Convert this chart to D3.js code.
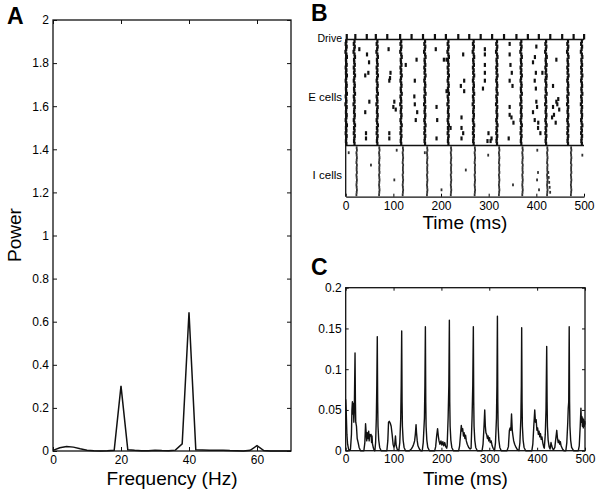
<!DOCTYPE html>
<html>
<head>
<meta charset="utf-8">
<script src="https://cdn.jsdelivr.net/npm/d3@7"></script>
<style>
  body { margin: 0; background: #fff; }
  svg text { font-family: "Liberation Sans", Arial, Helvetica, sans-serif; fill: #000; }
</style>
</head>
<body>
<svg id="fig" width="600" height="496"></svg>
<script>
// ---- panel A : power spectrum
const freqs = [0,2,4,6,8,10,12,14,16,18,20,22,24,26,28,30,32,34,36,38,40,42,44,46,48,50,52,54,56,58,60,62,64,66,68,70];
const power = [0.003,0.015,0.021,0.018,0.010,0.004,0.001,0,0.001,0.003,0.302,0.006,0.003,0.001,0.001,0.004,0.002,0.001,0.004,0.033,0.644,0.006,0.005,0.003,0.004,0.004,0.002,0.001,0,0.003,0.025,0.002,0,0,0,0];
const freqTicks = [0, 20, 40, 60];
const powerTicks = [0, 0.2, 0.4, 0.6, 0.8, 1, 1.2, 1.4, 1.6, 1.8, 2];

// ---- panel B : raster
const driveTimes = [2, 20, 44, 63, 87, 114, 138, 162, 187, 210, 236, 259, 283, 307, 332, 358, 382, 405, 429, 454, 478, 500];
const eVolleys = [1, 18, 66, 116, 166, 215, 268, 317, 368, 420, 466, 495];
const iVolleys = [23, 70.5, 120, 171, 221, 271, 322, 371, 423, 473];
// per-cell timing offset (ms) inside a volley
const eJitter = [0.5,-1,1,0,-1.5,0.5,1.5,-0.5,0,1,-1,0.5,-0.5,1.5,0,-1,0.5,1,-0.5,0,1.5,-1,0,0.5,-1.5,1,0,-0.5,1,0.5,-1,0,1.5,-0.5,0.5,-1,1,0,-0.5,0.5];
const iJitter = [0,0.5,-0.5,0,0.5,0,-0.5,0.5,0,0,0.5,-0.5,0,0.5,0,-0.5,0,0.5,0,-0.5];
// spikes outside the volleys: [time ms, cell]
const eExtra = [
  [28.6,3],[44.7,5],[49,8],[47.5,12],[41,13],[49.6,23],[41,27],[42.6,35],[42.6,37],
  [90,3],[94,12],[93,14],[91.5,15],[102,23],[100,25],[105,26],[91.5,35],[91.5,37],
  [126,9],[148.7,7],[145,15],[144,21],[145,24],[150,27],[147,30],
  [189,3],[206,7],[211.6,7],[190.6,25],[192,30],[190.6,37],[211.6,19],[220,33],
  [246.5,5],[248.6,15],[241.6,17],[248.6,19],[243,29],[243,33],[246.5,35],[243,37],
  [292,3],[292,5],[292,9],[292,12],[292,15],[288,18],[299.6,35],[306,37],[297.5,38],[304,38],
  [344,1],[344,5],[345.7,9],[348.5,12],[344,15],[350,17],[344,25],[344,28],[347.8,29],[352,31],[342,37],
  [400,2],[397,6],[393,8],[399,12],[396.6,15],[399,18],[400,23],[401.5,25],[393,27],[396.6,30],[404,31],[403.6,33],[408.5,35],
  [421,6],[421,9],[412.7,12],[421,14],
  [442,7],[435,17],[442,23],[435,25],[437,28],[433,29],[440.6,31],[444,24],[446,22],[448,26]
];
const iExtra = [
  [6.3,2],[53,7],[102,13],[107,1],[166,2],[201,17],[252,9],[299,3],[351,15],
  [402,1],[403.5,10],[401.5,13],[405.6,17],[496.5,3],
  [425,10],[426,12],[427,14],[428,16],[429,18]
];
const timeTicks = [0, 100, 200, 300, 400, 500];

// ---- panel C : population trace [time ms, value]
const lfp = [
  [0,0.063],[1,0.05],[2.5,0.02],[4,0.008],[6,0.002],[8,0],
  [10,0.002],[12,0.02],[13,0.05],[14,0.06],[15,0.045],[16,0.058],[17,0.035],[18,0.05],[19.5,0.12],[20.3,0.06],[21,0.035],[22.5,0.03],[24,0.015],[26,0.01],[28,0.004],[31,0],
  [38,0],[40,0.01],[41.5,0.033],[43,0.02],[44,0.012],[45,0.022],[46.5,0.015],[48,0.024],[49,0.012],[50,0.02],[51.5,0.018],[53,0.02],[54,0.01],[55,0.018],[56,0.008],[58,0.003],[60,0],
  [61,0],[62.5,0.01],[64,0.04],[65,0.08],[66,0.14],[66.8,0.06],[67.5,0.03],[69,0.013],[71,0.004],[74,0],
  [86,0],[88,0.012],[89.5,0.035],[91,0.036],[93,0.034],[95,0.03],[97,0.02],[99,0.008],[101,0.004],[102.5,0.008],[104,0.018],[105.5,0.006],[108,0.001],
  [111,0],[113,0.01],[115,0.04],[116,0.08],[117,0.147],[117.8,0.06],[118.5,0.03],[120,0.013],[122,0.004],[125,0],
  [133,0],[137,0.002],[140,0.005],[142,0.008],[144,0.012],[145.5,0.02],[147,0.032],[148,0.022],[149.5,0.012],[151,0.006],[154,0.002],[157,0],
  [160,0],[162,0.01],[164.5,0.04],[165.5,0.08],[166.5,0.152],[167.3,0.06],[168,0.03],[169.5,0.013],[171.5,0.004],[175,0],
  [186,0],[188,0.005],[190,0.018],[192,0.027],[193.5,0.018],[195,0.012],[197,0.008],[199,0.012],[201,0.007],[203,0.011],[205,0.006],[207,0.01],[209,0.005],[211,0.003],
  [212,0.006],[214,0.04],[215.5,0.08],[216.6,0.16],[217.4,0.06],[218.2,0.03],[219.7,0.013],[221.7,0.004],[225,0],
  [236,0],[238,0.006],[240,0.02],[241.5,0.031],[243,0.024],[244.5,0.027],[246,0.018],[247.5,0.022],[249,0.015],[250.5,0.019],[252,0.012],[254,0.008],[257,0.004],[260,0.002],
  [262,0.003],[264,0.04],[265.5,0.08],[266.7,0.152],[267.5,0.06],[268.2,0.03],[269.7,0.013],[271.7,0.004],[275,0],
  [285,0],[287,0.008],[289,0.03],[290.5,0.05],[291.8,0.03],[293,0.022],[294.5,0.02],[296,0.015],[297.5,0.018],[299,0.012],[300.5,0.016],[302,0.01],[304,0.012],[306,0.006],[308,0.003],
  [311,0],[313,0.01],[315,0.04],[316,0.08],[317,0.165],[317.8,0.06],[318.5,0.03],[320,0.013],[322,0.004],[325,0],
  [337,0],[340,0.005],[342,0.025],[343.5,0.028],[345,0.025],[346.5,0.045],[348,0.025],[349.5,0.018],[351,0.012],[353,0.008],[356,0.004],[359,0.001],
  [362,0],[364,0.01],[366,0.04],[367,0.08],[367.7,0.151],[368.5,0.06],[369.2,0.03],[370.7,0.013],[372.7,0.004],[376,0],
  [389,0],[391,0.008],[393,0.03],[395,0.05],[396.5,0.035],[398,0.038],[399.5,0.025],[401,0.028],[402.5,0.02],[404,0.024],[405.5,0.017],[407,0.021],[408.5,0.014],[410,0.017],[412,0.009],[414,0.004],
  [415,0.003],[417,0.02],[418.5,0.05],[420,0.128],[420.8,0.06],[421.5,0.03],[423,0.013],[425,0.005],
  [427,0.002],[429,0.01],[430.5,0.006],[432,0.003],[434,0.001],[437,0.004],[439,0.015],[441,0.025],[442.5,0.015],[444,0.01],[445.5,0.013],[447,0.008],[448.5,0.011],[450,0.006],[453,0.002],[456,0],
  [460,0],[462,0.01],[464,0.035],[465,0.052],[466,0.06],[467,0.152],[467.8,0.06],[468.5,0.03],[470,0.013],[472,0.004],[476,0],
  [486,0],[488,0.006],[490,0.03],[491.5,0.052],[492.5,0.035],[493.5,0.042],[494.5,0.03],[495.5,0.04],[496.5,0.028],[497.5,0.038],[498.5,0.03],[499.5,0.036],[500,0.032]
];
const lfpTicks = [0, 0.05, 0.1, 0.15, 0.2];

const svg = d3.select('#fig');

// box with inward ticks on all four sides, labels on left and bottom
function boxAxes(x, y, xt, yt, tickLen) {
    const [x0, x1] = x.range();
    const [y0, y1] = y.range();
    const g = svg.append('g');
    g.append('g')
        .attr('transform', `translate(0,${y0})`)
        .call(d3.axisBottom(x).tickValues(xt).tickSize(-tickLen).tickSizeOuter(0).tickPadding(4).tickFormat(d => d));
    g.append('g')
        .attr('transform', `translate(${x0},0)`)
        .call(d3.axisLeft(y).tickValues(yt).tickSize(-tickLen).tickSizeOuter(0).tickPadding(4).tickFormat(d => d));
    g.append('g')
        .attr('transform', `translate(0,${y1})`)
        .call(d3.axisTop(x).tickValues(xt).tickSize(-tickLen).tickSizeOuter(0).tickFormat(''));
    g.append('g')
        .attr('transform', `translate(${x1},0)`)
        .call(d3.axisRight(y).tickValues(yt).tickSize(-tickLen).tickSizeOuter(0).tickFormat(''));
    g.selectAll('.domain').remove();
    g.selectAll('.tick line').attr('stroke', '#111').attr('stroke-width', 1);
    g.selectAll('.tick text').style('font-size', '12px').attr('fill', '#000');
    g.append('rect')
        .attr('x', x0).attr('y', y1)
        .attr('width', x1 - x0).attr('height', y0 - y1)
        .attr('fill', 'none').attr('stroke', '#111').attr('stroke-width', 1.3);
    return g;
}

function panelLabel(t, x, y) {
    svg.append('text').text(t)
        .attr('x', x).attr('y', y)
        .style('font-size', '23px').style('font-weight', 'bold');
}

function axisTitle(t, x, y, rotate) {
    const el = svg.append('text').text(t)
        .attr('text-anchor', 'middle')
        .style('font-size', '19px');
    if (rotate) el.attr('transform', `translate(${x},${y}) rotate(-90)`);
    else el.attr('x', x).attr('y', y);
}

// ---------- A
const xA = d3.scaleLinear([0, 70], [53, 291]);
const yA = d3.scaleLinear([0, 2], [451, 20]);
boxAxes(xA, yA, freqTicks, powerTicks, 4);
svg.append('path')
    .datum(freqs.map((f, i) => [f, power[i]]))
    .attr('fill', 'none').attr('stroke', '#111').attr('stroke-width', 1.5)
    .attr('d', d3.line().x(d => xA(d[0])).y(d => yA(d[1])));
panelLabel('A', 7, 24);
axisTitle('Frequency (Hz)', (xA(0) + xA(70)) / 2, 485);
axisTitle('Power', 21, 235, true);

// ---------- B
const xB = d3.scaleLinear([0, 500], [345.7, 584]);
const yE = d3.scaleLinear([0, 40], [40, 145]);
const yI = d3.scaleLinear([0, 20], [146.5, 196]);
const gB = svg.append('g');

const eSpikes = [];
eVolleys.forEach(t => eJitter.forEach((j, c) => eSpikes.push([t + j, c])));
eExtra.forEach(s => eSpikes.push(s));
const iSpikes = [];
iVolleys.forEach(t => iJitter.forEach((j, c) => iSpikes.push([t + j, c])));
iExtra.forEach(s => iSpikes.push(s));

gB.selectAll('rect.e').data(eSpikes).enter().append('rect')
    .attr('class', 'e')
    .attr('x', d => xB(d[0]) - 1.1)
    .attr('y', d => yE(d[1] + 0.5) - 2)
    .attr('width', 2.2)
    .attr('height', 4)
    .attr('fill', '#111');
gB.selectAll('rect.i').data(iSpikes).enter().append('rect')
    .attr('class', 'i')
    .attr('x', d => xB(d[0]) - 0.9)
    .attr('y', d => yI(d[1] + 0.5) - 1.4)
    .attr('width', 1.8)
    .attr('height', 2.8)
    .attr('fill', '#333');
gB.selectAll('rect.d').data(driveTimes).enter().append('rect')
    .attr('class', 'd')
    .attr('x', d => xB(d) - 1)
    .attr('y', 34)
    .attr('width', 2.2)
    .attr('height', 5.5)
    .attr('fill', '#111');

const axB = gB.append('g')
    .attr('transform', `translate(0,196.7)`)
    .call(d3.axisBottom(xB).tickValues(timeTicks).tickSize(-3).tickSizeOuter(0).tickPadding(5).tickFormat(d => d));
axB.select('.domain').attr('stroke', '#111').attr('stroke-width', 1.3);
axB.selectAll('.tick text').style('font-size', '12px').attr('fill', '#000');
gB.append('line').attr('x1', xB(0)).attr('x2', xB(500)).attr('y1', 39.5).attr('y2', 39.5)
    .attr('stroke', '#111').attr('stroke-width', 1.3);
gB.append('line').attr('x1', xB(0)).attr('x2', xB(500)).attr('y1', 145.5).attr('y2', 145.5)
    .attr('stroke', '#111').attr('stroke-width', 1.3);
gB.append('line').attr('x1', xB(0)).attr('x2', xB(0)).attr('y1', 39.5).attr('y2', 196.7)
    .attr('stroke', '#111').attr('stroke-width', 1.3);

[['Drive', 41.5, 10.5], ['E cells', 101, 11.5], ['I cells', 179, 11.5]].forEach(([t, y, s]) => {
    gB.append('text').text(t).attr('x', 342).attr('y', y)
        .attr('text-anchor', 'end').style('font-size', s + 'px');
});
panelLabel('B', 311, 21);
axisTitle('Time (ms)', (xB(0) + xB(500)) / 2, 229);

// ---------- C
const xC = d3.scaleLinear([0, 500], [345.7, 585]);
const yC = d3.scaleLinear([0, 0.2], [450.7, 287.7]);
boxAxes(xC, yC, timeTicks, lfpTicks, 3);
svg.append('path')
    .datum(lfp)
    .attr('fill', 'none').attr('stroke', '#111').attr('stroke-width', 1.4)
    .attr('stroke-linejoin', 'round')
    .attr('d', d3.line().x(d => xC(d[0])).y(d => yC(d[1])));
panelLabel('C', 311, 275);
axisTitle('Time (ms)', (xC(0) + xC(500)) / 2, 485);
</script>
</body>
</html>
